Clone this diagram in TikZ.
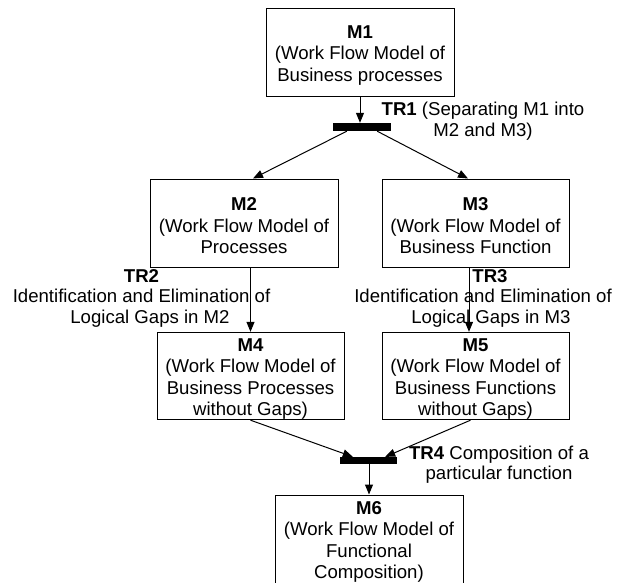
\documentclass[tikz,border=0pt]{standalone}
\usepackage{fontspec}
\setmainfont{Liberation Sans}
\usetikzlibrary{arrows.meta,calc}
\newcommand{\topgap}{\rule{0pt}{19pt}}
\begin{document}
\begin{tikzpicture}[x=1pt,y=-1pt,
  box/.style={draw, line width=1pt, inner sep=0pt, align=center, font=\fontsize{18.6}{21.5}\selectfont},
  lbl/.style={inner sep=0pt, align=center, font=\fontsize{18.6}{20.5}\selectfont},
  barbox/.style={fill=black, inner sep=0pt, minimum width=58pt, minimum height=8pt},
  arr/.style={line width=1pt, -{Triangle[length=10pt,width=8pt]}}]
\path[use as bounding box, clip] (0,0) rectangle (619,582);
\node[box, minimum width=188pt, minimum height=88pt] (m1) at (360,52) {\topgap\textbf{M1}\\(Work Flow Model of\\Business processes};
\node[barbox] (bar1) at (362,127) {};
\node[lbl] (tr1) at (483,121) {\textbf{TR1} (Separating M1 into\\M2 and M3)};
\node[box, minimum width=188pt, minimum height=88pt] (m2) at (244,223) {\topgap\textbf{M2}\\(Work Flow Model of\\Processes};
\node[box, minimum width=187pt, minimum height=88pt] (m3) at (475.5,223) {\topgap\textbf{M3}\\(Work Flow Model of\\Business Function};
\node[lbl] (tr2) at (141.5,298) {\textbf{TR2}\\Identification and Elimination of\\\hspace*{17pt}Logical Gaps in M2};
\node[lbl] (tr3) at (483,298) {\hspace*{14pt}\textbf{TR3}\\Identification and Elimination of\\\hspace*{16pt}Logical Gaps in M3};
\node[box, minimum width=187pt, minimum height=86.5pt] (m4) at (250.5,376) {\topgap\textbf{M4}\\(Work Flow Model of\\Business Processes\\without Gaps)};
\node[box, minimum width=187pt, minimum height=86.5pt] (m5) at (475.5,376) {\topgap\textbf{M5}\\(Work Flow Model of\\Business Functions\\without Gaps)};
\node[barbox, minimum width=57pt, minimum height=7pt] (bar2) at (368.5,460.5) {};
\node[lbl] (tr4) at (499,464.5) {\textbf{TR4} Composition of a\\particular function};
\node[box, minimum width=188pt, minimum height=88pt] (m6) at (369,539) {\topgap\textbf{M6}\\(Work Flow Model of\\Functional\\Composition)};
\draw[arr] (m1.south) -- (m1.south |- bar1.north);
\draw[arr] ($(bar1.south west)+(14,0)$) -- ($(m2.north)+(9,0)$);
\draw[arr] ($(bar1.south east)+(-14,0)$) -- ($(m3.north)+(-7.5,0)$);
\draw[arr] (m4.north |- m2.south) -- (m4.north);
\coordinate (a5) at ($(m5.north)+(-6.5,0)$);
\draw[arr] (a5 |- m3.south) -- (a5);
\draw[arr] (m4.south) -- ($(bar2.north west)+(13,0)$);
\draw[arr] ($(m5.south)+(-5,0)$) -- ($(bar2.north east)+(-12,0)$);
\draw[arr] (m6.north |- bar2.south) -- (m6.north);
\end{tikzpicture}
\end{document}
